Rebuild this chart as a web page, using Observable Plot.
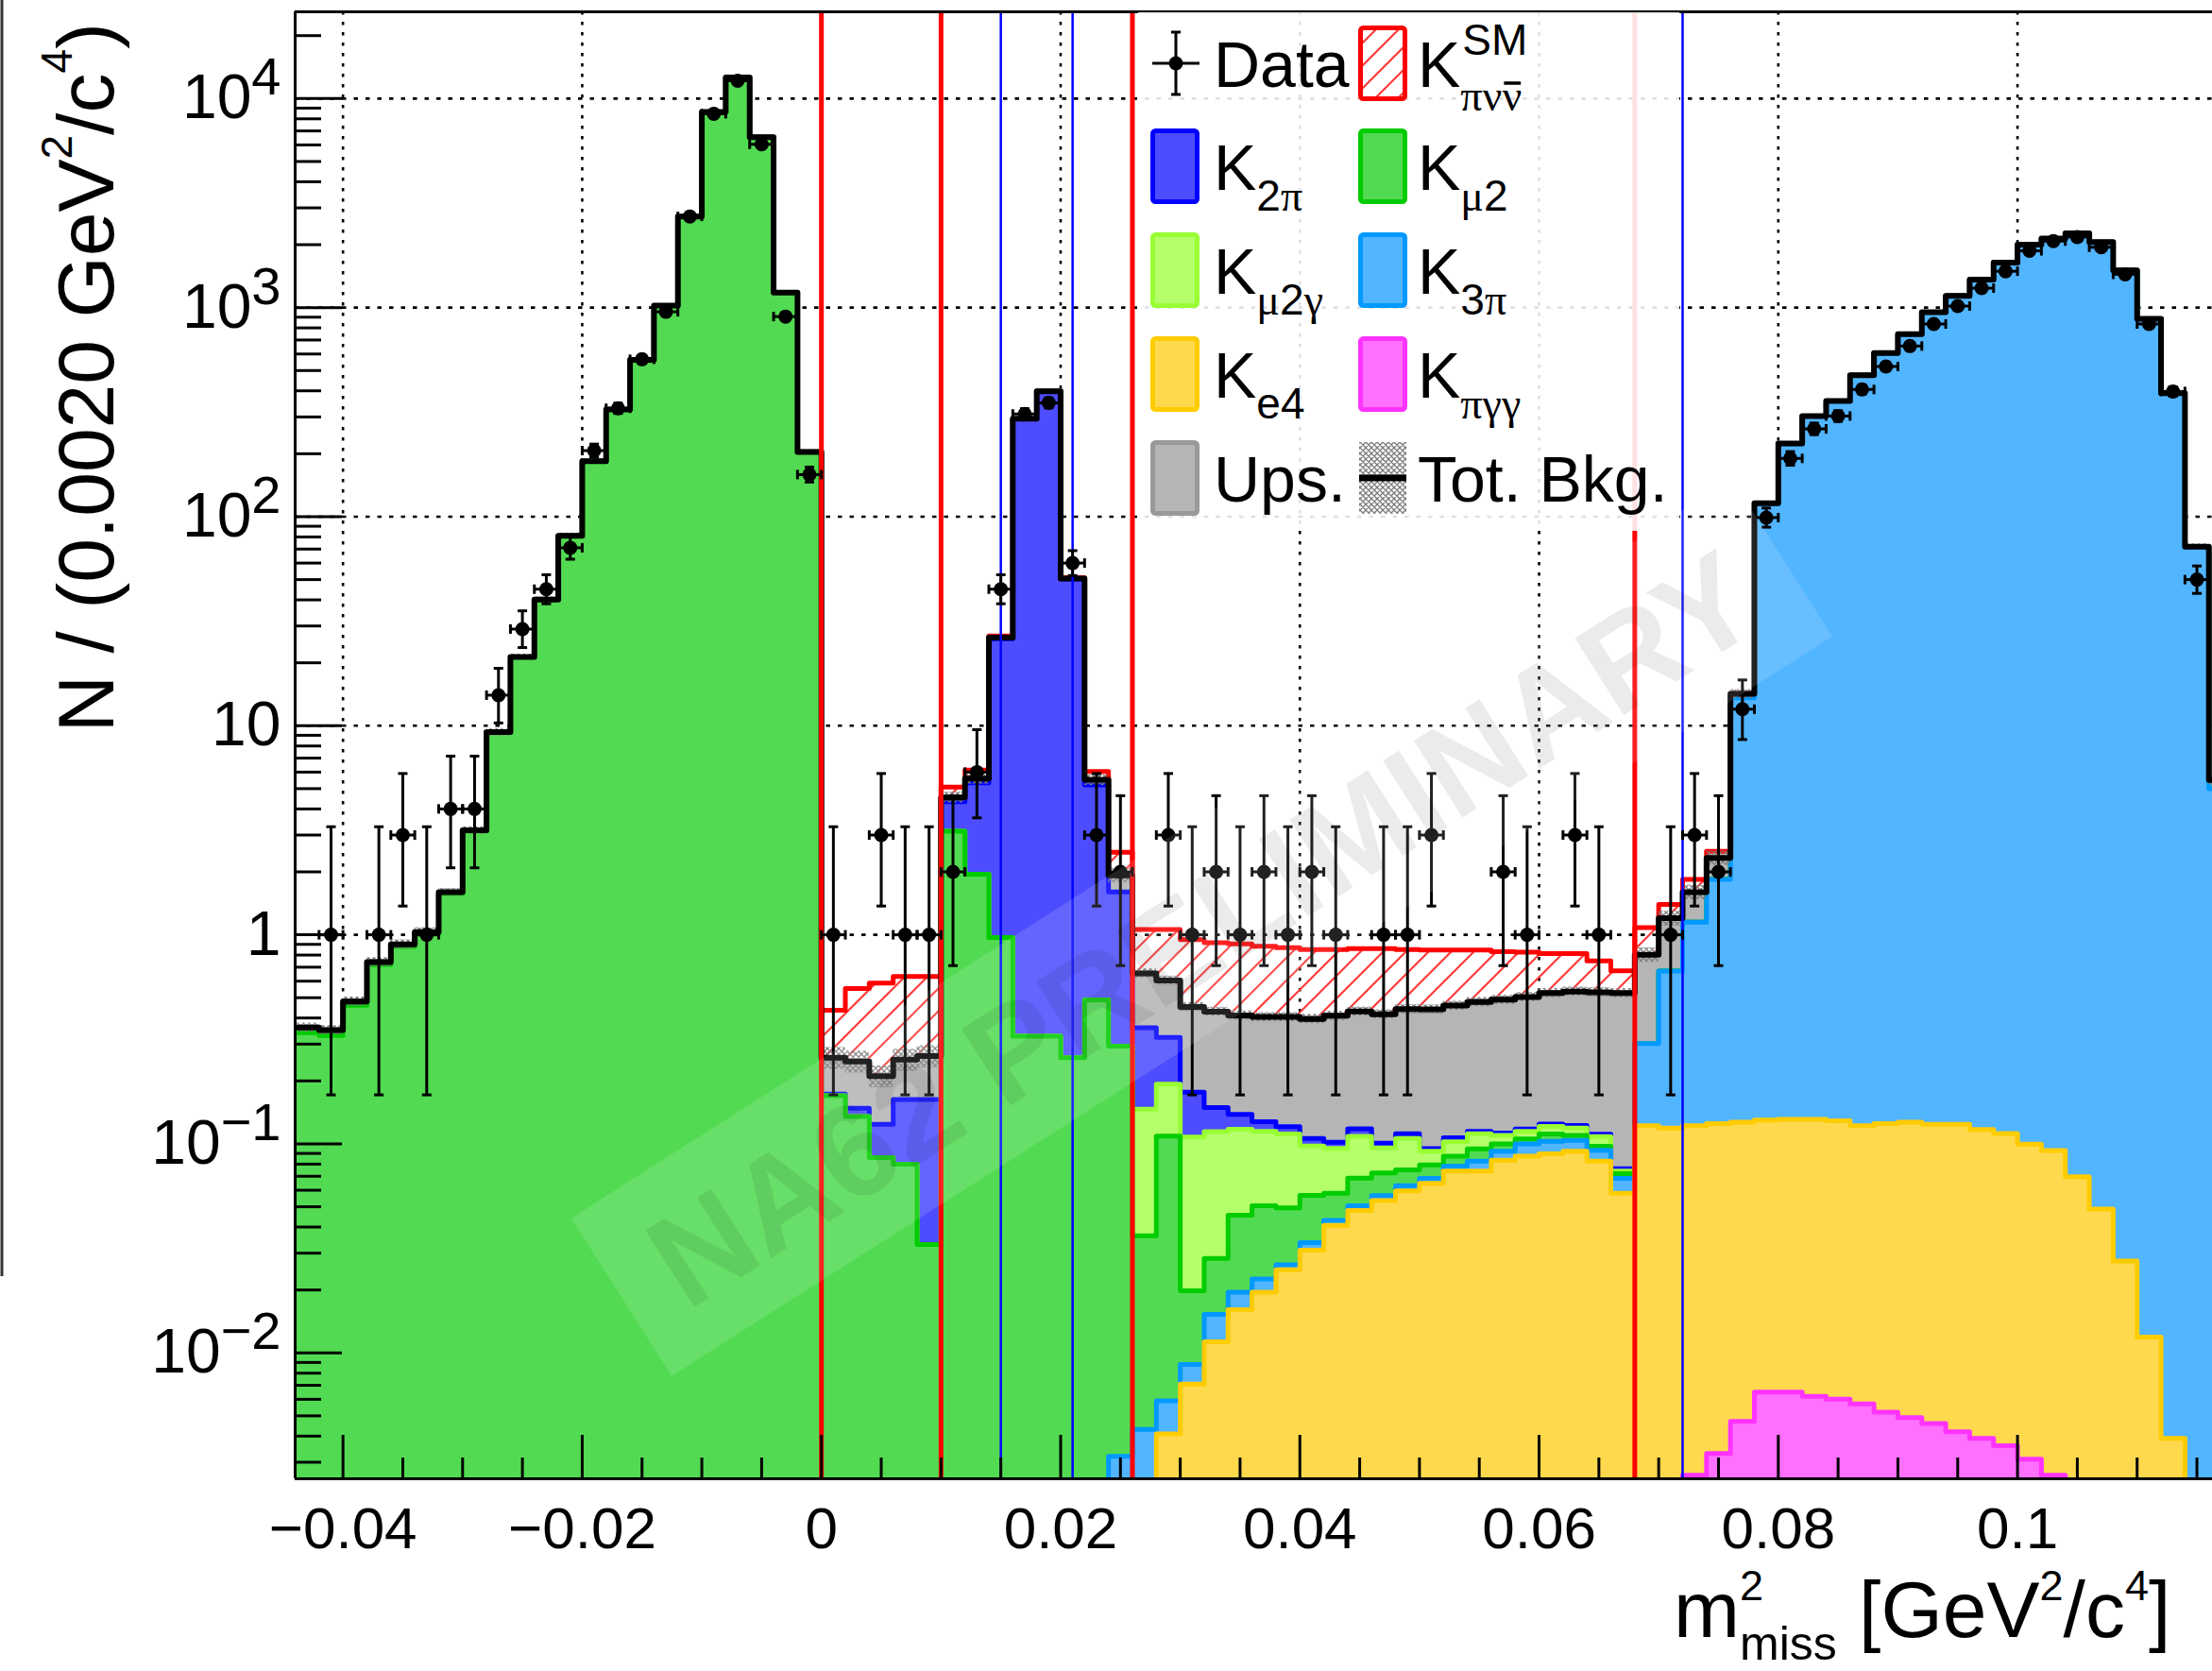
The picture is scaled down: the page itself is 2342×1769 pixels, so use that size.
<!DOCTYPE html>
<html>
<head>
<meta charset="utf-8">
<script src="https://cdn.jsdelivr.net/npm/d3@7"></script>
<script src="https://cdn.jsdelivr.net/npm/@observablehq/plot@0.6"></script>
<style>
  html, body { margin: 0; padding: 0; background: #fff; }
  #chart { width: 2342px; height: 1769px; overflow: hidden; position: relative; }
  #chart svg { display: block; }
</style>
</head>
<body>
<div id="chart"></div>
<script>
// ---------------- binning ----------------
const binStart = -0.044;
const binWidth = 0.002;
const nBins = 81;
const xDomain = [-0.044, 0.1163];
const yDomain = [0.0025, 26000];

// ---------------- data (events per bin) ----------------
const dataCounts = [
  0,1,0,1,3,1,4,4,14,29,
  45,71,207,330,566,955,2730,8460,12170,6040,
  906,159,
  1,0,3,1,1,
  2,6,45,310,350,60,3,2,
  0,3,1,2,1,2,1,2,1,0,
  1,1,3,0,0,2,1,0,3,1,
  0,
  0,1,3,2,12,99,190,263,303,406,
  523,655,835,1017,1239,1493,1869,2080,2177,1945,
  1443,835,397,50,null
];

// ---------------- background components ----------------
const kmu2 = [
  0.34,0.33,0.46,0.72,0.88,1.01,1.58,3.14,9.3,21.3,
  40.1,81,184,326,562,1023,2729,8620,12630,6540,
  1180,204,
  0.170,0.135,0.086,0.080,0.033,
  3.13,1.95,0.97,0.327,0.327,0.258,0.488,0.29,
  0.032,0.103,0.011,0.013,0.026,0.028,0.023,0.023,0.015,0.018,
  0.016,0.012,0.011,0.009,0.012,0.0078,0.0056,0.0088,0.0058,0.0041,
  0.0038,
  0,0,0,0,0,0,0,0,0,0,
  0,0,0,0,0,0,0,0,0,0,
  0,0,0,0,0
];
const k2pi = [
  0,0,0,0,0,0,0,0,0,0,
  0,0,0,0,0,0,0,0,0,0,
  0,0,
  0.003,0.013,0.038,0.083,0.13,
  1.2,3.38,25.1,293.4,397.4,50.0,4.72,1.31,
  0.213,0.130,0.069,0.035,0.021,0.013,0.0095,0.0083,0.0069,0.0095,
  0.0053,0.0059,0.0025,0.0046,0.0031,0.003,0.0031,0.0033,0.0033,0.003,
  0.002,
  0,0,0,0,0,0,0,0,0,0,
  0,0,0,0,0,0,0,0,0,0,
  0,0,0,0,0
];
const kmu2g = [
  0,0,0,0,0,0,0,0,0,0,
  0,0,0,0,0,0,0,0,0,0,
  0,0,0,0,0,0,0,0,0,0,
  0,0,0,0,0,
  0.110,0.084,0.088,0.086,0.072,0.064,0.062,0.041,0.037,0.040,
  0.023,0.031,0.013,0.015,0.017,0.0097,0.009,0.0095,0.0093,0.011,
  0.002,
  0,0,0,0,0,0,0,0,0,0,
  0,0,0,0,0,0,0,0,0,0,
  0,0,0,0,0
];
const k3pi = [
  0,0,0,0,0,0,0,0,0,0,
  0,0,0,0,0,0,0,0,0,0,
  0,0,0,0,0,0,0,0,0,0,
  0,0,0,0,
  0.0032,
  0.0043,0.0018,0.0017,0.004,0.0034,0.0031,0.0014,0.0027,0.0023,0.0026,
  0.003,0.0034,0.0036,0.0041,0.0086,0.0087,0.0127,0.013,0.0117,0.0105,
  0.0103,
  0.18,0.551,1.027,1.715,13.47,115.4,223.4,302.4,357.4,474.4,
  605.4,745.4,950.4,1137,1362,1641,1999,2140,2264,2056,
  1508,883,389,71.4,5.0
];
const ke4 = [
  0,0,0,0,0,0,0,0,0,0,
  0,0,0,0,0,0,0,0,0,0,
  0,0,0,0,0,0,0,0,0,0,
  0,0,0,0,0,0,
  0.0041,0.0071,0.0113,0.0161,0.0195,0.025,0.031,0.0407,0.048,0.0535,
  0.0596,0.0647,0.0741,0.0741,0.0835,0.0873,0.0897,0.0922,0.0827,0.058,
  0.122,0.119,0.1194,0.1217,0.1223,0.1235,0.1246,0.1248,0.123,0.1163,
  0.1198,0.1221,0.1194,0.1198,0.1131,0.1085,0.0966,0.0903,0.0696,0.0487,
  0.0275,0.0119,0.0039,0,0
];
const kpgg = [
  0,0,0,0,0,0,0,0,0,0,
  0,0,0,0,0,0,0,0,0,0,
  0,0,0,0,0,0,0,0,0,0,
  0,0,0,0,0,0,0,0,0,0,
  0,0,0,0,0,0,0,0,0,0,
  0,0,0,0,0,0,0,0,
  0.0026,0.0033,0.0047,0.0065,0.0065,0.0062,0.006,0.0057,0.0052,0.0049,
  0.0046,0.0042,0.0039,0.0036,0.0031,0.0026,
  0,0,0,0,0,0,0
];
const ups = [
  0.02,0.02,0.02,0.02,0.02,0.02,0.02,0.02,0.02,0.02,
  0.02,0.02,0.02,0.02,0.02,0.02,0.02,0.02,0.02,0.02,
  0.02,0.02,
  0.085,0.1,0.087,0.09,0.1,
  0.21,0.26,0.3,0.3,0.3,0.3,0.3,0.32,
  0.295,0.281,0.275,0.28,0.273,0.277,0.284,0.29,0.308,0.312,
  0.316,0.329,0.345,0.352,0.362,0.377,0.386,0.402,0.413,0.42,
  0.45,
  0.5,0.53,0.45,0.49,0.6,
  0.5,0.5,0.5,0.5,0.5,0.5,0.5,0.5,0.5,0.5,
  0.5,0.5,0.5,0.5,0.5,0.5,0.5,0.5,0.5,0.5
];
// SM K+ -> pi+ nu nubar expectation
const signal = [
  0,0,0,0,0,0,0,0,0,0,
  0,0,0,0,0,0,0,0,0,0,
  0,0,
  0.178,0.306,0.377,0.379,0.369,
  0.55,0.54,0.5,0.5,0.5,0.5,0.53,0.56,
  0.406,0.457,0.495,0.487,0.494,0.477,0.463,0.453,0.439,0.429,
  0.443,0.409,0.405,0.386,0.368,0.341,0.323,0.287,0.278,0.218,
  0.146,
  0.28,0.195,0.24,0.18,0.1,
  0,0,0,0,0,0,0,0,0,0,
  0,0,0,0,0,0,0,0,0,0
];
// relative uncertainty of total background (hatched band)
const bkgRelErr = [
  0.05,0.05,0.05,0.05,0.05,0.05,0.04,0.04,0.04,0.03,
  0.03,0.03,0.02,0.02,0.02,0.02,0.02,0.02,0.02,0.02,
  0.02,0.03,
  0.12,0.12,0.12,0.12,0.12,
  0.06,0.06,0.03,0.015,0.015,0.02,0.06,0.08,
  0.05,0.05,0.05,0.05,0.05,0.05,0.05,0.05,0.05,0.05,
  0.05,0.05,0.05,0.05,0.05,0.05,0.05,0.05,0.05,0.05,
  0.05,
  0.08,0.08,0.08,0.08,0.05,
  0.02,0.02,0.02,0.02,0.02,0.02,0.02,0.02,0.02,0.02,
  0.02,0.02,0.02,0.02,0.02,0.02,0.02,0.02,0.03,0.05
];

// ---------------- ticks / cuts ----------------
const xMajor = [-0.04, -0.02, 0, 0.02, 0.04, 0.06, 0.08, 0.1];
const xMinor = [-0.035,-0.03,-0.025,-0.015,-0.01,-0.005,0.005,0.01,0.015,0.025,0.03,0.035,
                0.045,0.05,0.055,0.065,0.07,0.075,0.085,0.09,0.095,0.105,0.11,0.115];
const xGrid = [-0.04, -0.02, 0.02, 0.04, 0.06, 0.08, 0.1];
const yMajor = [0.01, 0.1, 1, 10, 100, 1000, 10000];
const yMinor = [0.003,0.004,0.005,0.006,0.007,0.008,0.009,
                0.02,0.03,0.04,0.05,0.06,0.07,0.08,0.09,
                0.2,0.3,0.4,0.5,0.6,0.7,0.8,0.9,
                2,3,4,5,6,7,8,9,
                20,30,40,50,60,70,80,90,
                200,300,400,500,600,700,800,900,
                2000,3000,4000,5000,6000,7000,8000,9000,20000];
const cutsRed = [0, 0.010, 0.026, 0.068];
const cutsBlue = [0.015, 0.021, 0.072];

// ---------------- build stack ----------------
const SANS = "'Liberation Sans', Arial, Helvetica, sans-serif";
const SERIF = "'Liberation Serif', 'DejaVu Serif', 'Times New Roman', serif";

const bins = d3.range(nBins).map(i => ({
  i, x1: binStart + i * binWidth, x2: binStart + (i + 1) * binWidth, xc: binStart + (i + 0.5) * binWidth
}));

const layers = [ // bottom -> top
  {key: "kpgg",   values: kpgg,   fill: "#ff70ff", stroke: "#ff33ff"},
  {key: "ke4",    values: ke4,    fill: "#ffd94d", stroke: "#ffcc00"},
  {key: "k3pi",   values: k3pi,   fill: "#52b5ff", stroke: "#0099ff"},
  {key: "kmu2",   values: kmu2,   fill: "#52db52", stroke: "#00cc00"},
  {key: "kmu2g",  values: kmu2g,  fill: "#b5ff6b", stroke: "#99ff33"},
  {key: "k2pi",   values: k2pi,   fill: "#4d4dff", stroke: "#0000ff"},
  {key: "ups",    values: ups,    fill: "#b5b5b5", stroke: "#999999"},
  {key: "signal", values: signal, fill: "url(#sigHatch)", stroke: "#ff0000"}
];
let running = new Array(nBins).fill(0);
const cum = {};
for (const L of layers) {
  running = running.map((v, i) => v + (L.values[i] || 0));
  cum[L.key] = running;
}
const total = cum.ups;
const TINY = 1e-6;

function stepPoints(arr) {
  const pts = bins.map(b => ({x: b.x1, y: Math.max(arr[b.i], TINY)}));
  pts.push({x: bins[nBins - 1].x2, y: Math.max(arr[nBins - 1], TINY)});
  return pts;
}

const marks = [];
// grid
marks.push(Plot.ruleX(xGrid, {stroke: "#000", strokeWidth: 2.6, strokeDasharray: "3.5,7.5"}));
marks.push(Plot.ruleY(yMajor, {stroke: "#000", strokeWidth: 2.6, strokeDasharray: "4.5,8"}));

// stacked histograms, drawn top layer first (ROOT THStack style)
for (const L of layers.slice().reverse()) {
  const c = cum[L.key];
  const rows = bins.filter(b => c[b.i] > 0).map(b => ({x1: b.x1, x2: b.x2, y2: c[b.i]}));
  marks.push(Plot.rectY(rows, {x1: "x1", x2: "x2", y1: TINY, y2: "y2", fill: L.fill, clip: true, shapeRendering: "crispEdges"}));
  marks.push(Plot.line(stepPoints(c), {x: "x", y: "y", curve: "step-after", stroke: L.stroke, strokeWidth: 5, clip: true}));
}

// total background error band + line
const bandRows = bins.filter(b => total[b.i] > 0).map(b => ({
  x1: b.x1, x2: b.x2, lo: total[b.i] * (1 - bkgRelErr[b.i]), hi: total[b.i] * (1 + bkgRelErr[b.i])
}));
marks.push(Plot.rectY(bandRows, {x1: "x1", x2: "x2", y1: "lo", y2: "hi", fill: "url(#bandHatch)", clip: true}));
marks.push(Plot.line(stepPoints(total), {x: "x", y: "y", curve: "step-after", stroke: "#000", strokeWidth: 6, clip: true}));

// cut lines
marks.push(Plot.ruleX(cutsRed, {stroke: "#ff0000", strokeWidth: 5}));
marks.push(Plot.ruleX(cutsBlue, {stroke: "#0000ff", strokeWidth: 2.5}));

// frame
marks.push(Plot.ruleX([xDomain[0]], {stroke: "#000", strokeWidth: 3}));
marks.push(Plot.ruleY([yDomain[1]], {stroke: "#000", strokeWidth: 3}));
marks.push(Plot.ruleY([yDomain[0]], {stroke: "#000", strokeWidth: 3}));

// axes (ticks inward)
marks.push(Plot.axisX({ticks: xMajor, tickSize: 46, dy: -46, fill: "none", strokeWidth: 3, label: null}));
marks.push(Plot.axisX({ticks: xMinor, tickSize: 22, dy: -22, fill: "none", strokeWidth: 3, label: null}));
marks.push(Plot.axisX({ticks: xMajor, tickSize: 0, tickPadding: 29, fontSize: 62, label: null,
  tickFormat: d => d === 0 ? "0" : (d < 0 ? "\u2212" : "") + String(+Math.abs(d).toFixed(3))}));
marks.push(Plot.axisY({ticks: yMajor, tickSize: 50, dx: 50, fill: "none", strokeWidth: 3, label: null}));
marks.push(Plot.axisY({ticks: yMinor, tickSize: 28, dx: 28, fill: "none", strokeWidth: 3, label: null}));
marks.push(Plot.axisY({ticks: yMajor, tickSize: 0, tickPadding: 15, fontSize: 66, label: null,
  tickFormat: d => d === 1 ? "1" : d === 10 ? "10" : "10^" + Math.round(Math.log10(d))}));

// data points with Poisson (Garwood, Wilson-Hilferty) errors
function poissonInterval(n) {
  const wh = (k, z) => k * Math.pow(1 - 2 / (9 * k) + z * Math.sqrt(2 / (9 * k)), 3);
  return [n > 0 ? wh(2 * n, -1) / 2 : 0, wh(2 * n + 2, 1) / 2];
}
const pts = bins.filter(b => dataCounts[b.i] > 0).map(b => {
  const n = dataCounts[b.i];
  const [lo, hi] = poissonInterval(n);
  return {x: b.xc, xl: b.x1, xh: b.x2, n, lo, hi};
});
const hCap = {draw(ctx) { ctx.moveTo(-5, 0); ctx.lineTo(5, 0); }};
const vCap = {draw(ctx) { ctx.moveTo(0, -5); ctx.lineTo(0, 5); }};
marks.push(Plot.ruleX(pts, {x: "x", y1: "lo", y2: "hi", stroke: "#000", strokeWidth: 3}));
marks.push(Plot.ruleY(pts, {y: "n", x1: "xl", x2: "xh", stroke: "#000", strokeWidth: 3}));
marks.push(Plot.dot(pts.flatMap(p => [{x: p.x, y: p.lo}, {x: p.x, y: p.hi}]),
  {x: "x", y: "y", symbol: hCap, fill: "none", stroke: "#000", strokeWidth: 3, r: 5}));
marks.push(Plot.dot(pts.flatMap(p => [{x: p.xl, y: p.n}, {x: p.xh, y: p.n}]),
  {x: "x", y: "y", symbol: vCap, fill: "none", stroke: "#000", strokeWidth: 3, r: 5}));
marks.push(Plot.dot(pts, {x: "x", y: "n", r: 7.5, fill: "#000", stroke: "none"}));

const svgNode = Plot.plot({
  width: 2342, height: 1769,
  marginLeft: 312, marginRight: 0, marginTop: 12, marginBottom: 204,
  x: {domain: xDomain, label: null},
  y: {type: "log", domain: yDomain, label: null},
  style: {fontFamily: SANS, background: "#fff", color: "#000", overflow: "visible"},
  marks
});
document.getElementById("chart").appendChild(svgNode);
const svg = d3.select(svgNode);

// patterns
const defs = svg.insert("defs", ":first-child");
const sp = defs.append("pattern").attr("id", "sigHatch").attr("patternUnits", "userSpaceOnUse")
  .attr("width", 24).attr("height", 24);
sp.append("path").attr("d", "M-6,6 L6,-6 M0,24 L24,0 M18,30 L30,18")
  .attr("stroke", "#ff3a3a").attr("stroke-width", 2.2).attr("fill", "none");
const bp = defs.append("pattern").attr("id", "bandHatch").attr("patternUnits", "userSpaceOnUse")
  .attr("width", 6).attr("height", 6);
bp.append("path").attr("d", "M0,0 L6,6 M6,0 L0,6 M-1,5 L1,7 M5,-1 L7,1")
  .attr("stroke", "#7a7a7a").attr("stroke-width", 1.3).attr("fill", "none");

// superscript exponents for log labels
svg.selectAll('g[aria-label="y-axis tick label"] text').each(function () {
  const t = this.textContent;
  if (t.includes("^")) {
    const [b, e] = t.split("^");
    this.textContent = b;
    d3.select(this).append("tspan").attr("dy", -25).attr("font-size", 56).text(e.replace("-", "\u2212"));
  }
});

// axis titles
const yt = svg.append("text").attr("transform", "translate(120,24) rotate(-90)")
  .attr("text-anchor", "end").attr("font-size", 84).attr("font-family", SANS).attr("fill", "#000");
yt.append("tspan").text("N / (0.0020 GeV");
yt.append("tspan").attr("dy", -44).attr("font-size", 46).text("2");
yt.append("tspan").attr("dy", 44).text("/c");
yt.append("tspan").attr("dy", -44).attr("font-size", 46).text("4");
yt.append("tspan").attr("dy", 44).text(")");

const xt = svg.append("text").attr("y", 1733).attr("font-size", 84).attr("font-family", SANS)
  .attr("fill", "#000").attr("text-anchor", "start");
const xm = xt.append("tspan").attr("x", 1772).text("m");
const mw = xm.node().getComputedTextLength();
xt.append("tspan").attr("x", 1772 + mw).attr("y", 1733 - 39).attr("font-size", 45).text("2");
const xs = xt.append("tspan").attr("x", 1772 + mw).attr("y", 1733 + 24).attr("font-size", 50).text("miss");
const missEnd = 1772 + mw + xs.node().getComputedTextLength();
xt.append("tspan").attr("x", missEnd).attr("y", 1733).text(" [GeV");
xt.append("tspan").attr("dy", -39).attr("font-size", 45).text("2");
xt.append("tspan").attr("dy", 39).text("/c");
xt.append("tspan").attr("dy", -39).attr("font-size", 45).text("4");
xt.append("tspan").attr("dy", 39).text("]");

// neighbour panel edge at far left
svg.append("line").attr("x1", 2).attr("x2", 2).attr("y1", 0).attr("y2", 1351).attr("stroke", "#333").attr("stroke-width", 3);

// ---------------- legend ----------------
const lg = svg.append("g").attr("font-family", SANS).attr("fill", "#000").attr("text-anchor", "start");
lg.append("rect").attr("x", 1205).attr("y", 13).attr("width", 573).attr("height", 549)
  .attr("fill", "#fff").attr("fill-opacity", 0.88);
const rowY = [67, 176, 286, 396, 506];
const c1Box = 1218, c2Box = 1438, boxW = 52, boxH = 80;
const c1Text = 1285, c2Text = 1501;
function legBox(x, cy, fill, stroke) {
  lg.append("rect").attr("x", x + 2.5).attr("y", cy - boxH / 2 + 2.5).attr("width", boxW - 5).attr("height", boxH - 5)
    .attr("fill", fill).attr("stroke", stroke).attr("stroke-width", 5).attr("rx", 3);
}
function kLabel(x, cy, subParts, sup, overlineLast) {
  const base = cy + 25;
  const t = lg.append("text").attr("font-size", 68).attr("y", base);
  const k = t.append("tspan").attr("x", x).text("K");
  const w = k.node().getComputedTextLength();
  if (sup) t.append("tspan").attr("x", x + w + 2).attr("y", base - 34).attr("font-size", 46).text(sup);
  const subBase = base + (sup ? 25 : 22);
  if (subParts) {
    const s = t.append("tspan").attr("x", x + w).attr("y", subBase).attr("font-size", 46);
    subParts.forEach(p => { const q = s.append("tspan").text(p.t); if (p.serif) q.attr("font-family", SERIF); });
  }
  if (overlineLast) {
    const node = t.node();
    const ext = node.getExtentOfChar(node.getNumberOfChars() - 1);
    lg.append("line").attr("x1", ext.x + 2).attr("x2", ext.x + ext.width - 1)
      .attr("y1", subBase - 29).attr("y2", subBase - 29).attr("stroke", "#000").attr("stroke-width", 3.5);
  }
}
function plainLabel(x, cy, text) {
  lg.append("text").attr("x", x).attr("y", cy + 25).attr("font-size", 68).text(text);
}
// row 0: Data, signal
{
  const cx = 1245, cy = rowY[0];
  lg.append("line").attr("x1", cx).attr("x2", cx).attr("y1", cy - 33).attr("y2", cy + 33).attr("stroke", "#000").attr("stroke-width", 3);
  lg.append("line").attr("x1", cx - 5).attr("x2", cx + 5).attr("y1", cy - 33).attr("y2", cy - 33).attr("stroke", "#000").attr("stroke-width", 3);
  lg.append("line").attr("x1", cx - 5).attr("x2", cx + 5).attr("y1", cy + 33).attr("y2", cy + 33).attr("stroke", "#000").attr("stroke-width", 3);
  lg.append("line").attr("x1", cx - 25).attr("x2", cx + 25).attr("y1", cy).attr("y2", cy).attr("stroke", "#000").attr("stroke-width", 3);
  lg.append("circle").attr("cx", cx).attr("cy", cy).attr("r", 7.5).attr("fill", "#000");
  plainLabel(c1Text, cy, "Data");
  legBox(c2Box, cy, "url(#sigHatch)", "#ff0000");
  kLabel(c2Text, cy, [{t: "\u03c0\u03bd\u03bd", serif: true}], "SM", true);
}
legBox(c1Box, rowY[1], "#4d4dff", "#0000ff");
kLabel(c1Text, rowY[1], [{t: "2"}, {t: "\u03c0", serif: true}]);
legBox(c2Box, rowY[1], "#52db52", "#00cc00");
kLabel(c2Text, rowY[1], [{t: "\u03bc", serif: true}, {t: "2"}]);
legBox(c1Box, rowY[2], "#b5ff6b", "#99ff33");
kLabel(c1Text, rowY[2], [{t: "\u03bc", serif: true}, {t: "2"}, {t: "\u03b3", serif: true}]);
legBox(c2Box, rowY[2], "#52b5ff", "#0099ff");
kLabel(c2Text, rowY[2], [{t: "3"}, {t: "\u03c0", serif: true}]);
legBox(c1Box, rowY[3], "#ffd94d", "#ffcc00");
kLabel(c1Text, rowY[3], [{t: "e4"}]);
legBox(c2Box, rowY[3], "#ff70ff", "#ff33ff");
kLabel(c2Text, rowY[3], [{t: "\u03c0\u03b3\u03b3", serif: true}]);
legBox(c1Box, rowY[4], "#b5b5b5", "#999999");
plainLabel(c1Text, rowY[4], "Ups.");
lg.append("rect").attr("x", c2Box + 1).attr("y", rowY[4] - 38).attr("width", boxW - 2).attr("height", 76).attr("fill", "url(#bandHatch)");
lg.append("line").attr("x1", c2Box + 1).attr("x2", c2Box + boxW - 1).attr("y1", rowY[4]).attr("y2", rowY[4]).attr("stroke", "#000").attr("stroke-width", 7);
plainLabel(c2Text, rowY[4], "Tot. Bkg.");

// ---------------- watermark ----------------
const wm = svg.append("g").attr("transform", "translate(1272,982) rotate(-32.5)");
wm.append("rect").attr("x", -728).attr("y", -99).attr("width", 1457).attr("height", 198)
  .attr("fill", "#fff").attr("fill-opacity", 0.13);
wm.append("text").attr("text-anchor", "middle").attr("dy", "0.36em").attr("font-size", 140)
  .attr("font-weight", "bold").attr("font-family", SANS).attr("fill", "#000").attr("fill-opacity", 0.08)
  .text("NA62 PRELIMINARY");
</script>
</body>
</html>
